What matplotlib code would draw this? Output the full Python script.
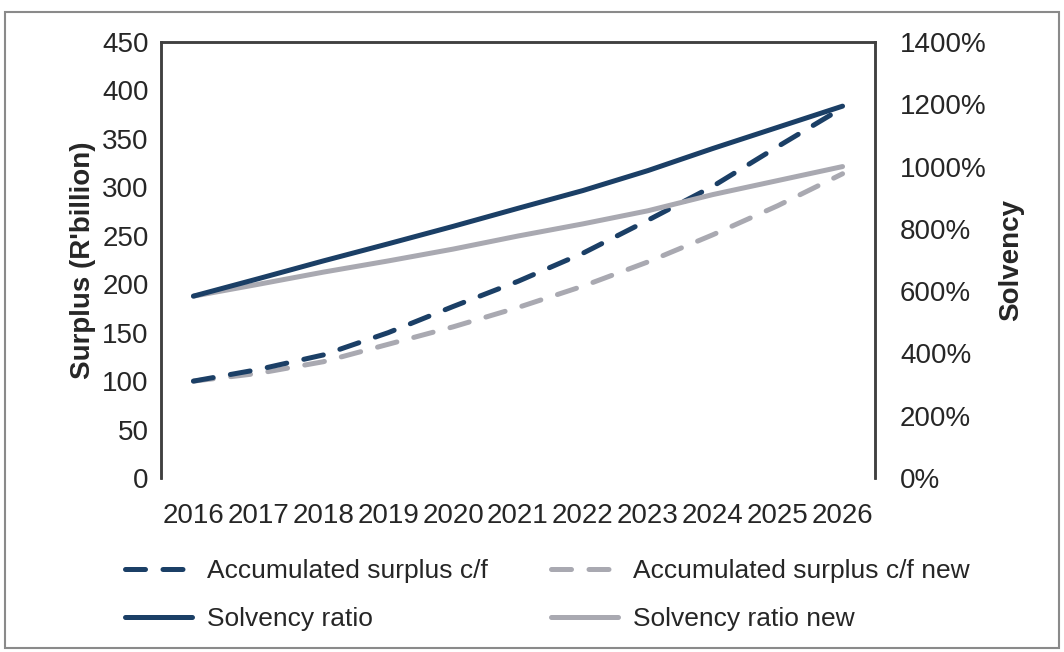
import matplotlib
matplotlib.use("Agg")
import matplotlib.pyplot as plt
from matplotlib.patches import Rectangle

plt.rcParams['font.family'] = ['Liberation Sans', 'DejaVu Sans']

years = ['2016', '2017', '2018', '2019', '2020', '2021', '2022', '2023', '2024', '2025', '2026']
surplus = [100, 112, 127, 150, 177, 203, 232, 266, 301, 342, 382]
surplus_new = [100, 108, 120, 138, 156, 176, 198, 223, 251, 281, 314]
solvency = [584, 640, 697, 752, 808, 866, 923, 987, 1058, 1126, 1194]
solvency_new = [584, 622, 661, 697, 735, 777, 816, 858, 910, 955, 1000]
left_ticks = [0, 50, 100, 150, 200, 250, 300, 350, 400, 450]
right_ticks = [0, 200, 400, 600, 800, 1000, 1200, 1400]

DARK = '#1b3f66'
GRAY = '#a9a9b1'
TXT = '#262626'

fig = plt.figure(figsize=(10.64, 6.52), dpi=100)
ax = fig.add_axes([161/1064, 1-478/652, (875-161)/1064, (478-42)/652])
ax2 = ax.twinx()

x = list(range(len(years)))
lw = 3.6
l1, = ax.plot(x, surplus, color=DARK, lw=lw, dashes=(4, 3.5), dash_capstyle='round',
              label='Accumulated surplus c/f', zorder=3)
l2, = ax.plot(x, surplus_new, color=GRAY, lw=lw, dashes=(4, 3.5), dash_capstyle='round',
              label='Accumulated surplus c/f new', zorder=2)
l4, = ax2.plot(x, solvency_new, color=GRAY, lw=lw, solid_capstyle='round',
               label='Solvency ratio new', zorder=2)
l3, = ax2.plot(x, solvency, color=DARK, lw=lw, solid_capstyle='round',
               label='Solvency ratio', zorder=3)

ax.set_xlim(-0.5, len(years) - 0.5)
ax.set_ylim(0, 450)
ax2.set_ylim(0, 1400)
ax.set_xticks(x)
ax.set_xticklabels(years)
ax.set_yticks(left_ticks)
ax2.set_yticks(right_ticks)
ax2.set_yticklabels([f'{v}%' for v in right_ticks])

for a in (ax, ax2):
    a.tick_params(length=0, labelsize=20, colors=TXT)
    for s in a.spines.values():
        s.set_color('#404040')
        s.set_linewidth(1.8)
    a.spines['bottom'].set_visible(False)
ax.tick_params(axis='y', pad=9)
ax.tick_params(axis='x', pad=18)
ax2.tick_params(axis='y', pad=18)

ax.set_ylabel("Surplus (R'billion)", fontsize=20, fontweight='bold', color=TXT, labelpad=4)
ax2.set_ylabel('Solvency', fontsize=20, fontweight='bold', color=TXT, labelpad=8)

fig.legend(handles=[l1, l3, l2, l4], loc='upper left', bbox_to_anchor=(125/1064, 1-559/652),
           ncol=2, frameon=False, fontsize=19, handlelength=2.55, handletextpad=0.55,
           columnspacing=2.4, labelspacing=0.9, labelcolor=TXT, borderpad=0,
           borderaxespad=0)

fig.patches.append(Rectangle((5/1064, 1-648/652), 1054/1064, 636/652, transform=fig.transFigure,
                             fill=False, edgecolor='#8a8a8a', lw=1.5))

fig.savefig('out.png', dpi=100)
